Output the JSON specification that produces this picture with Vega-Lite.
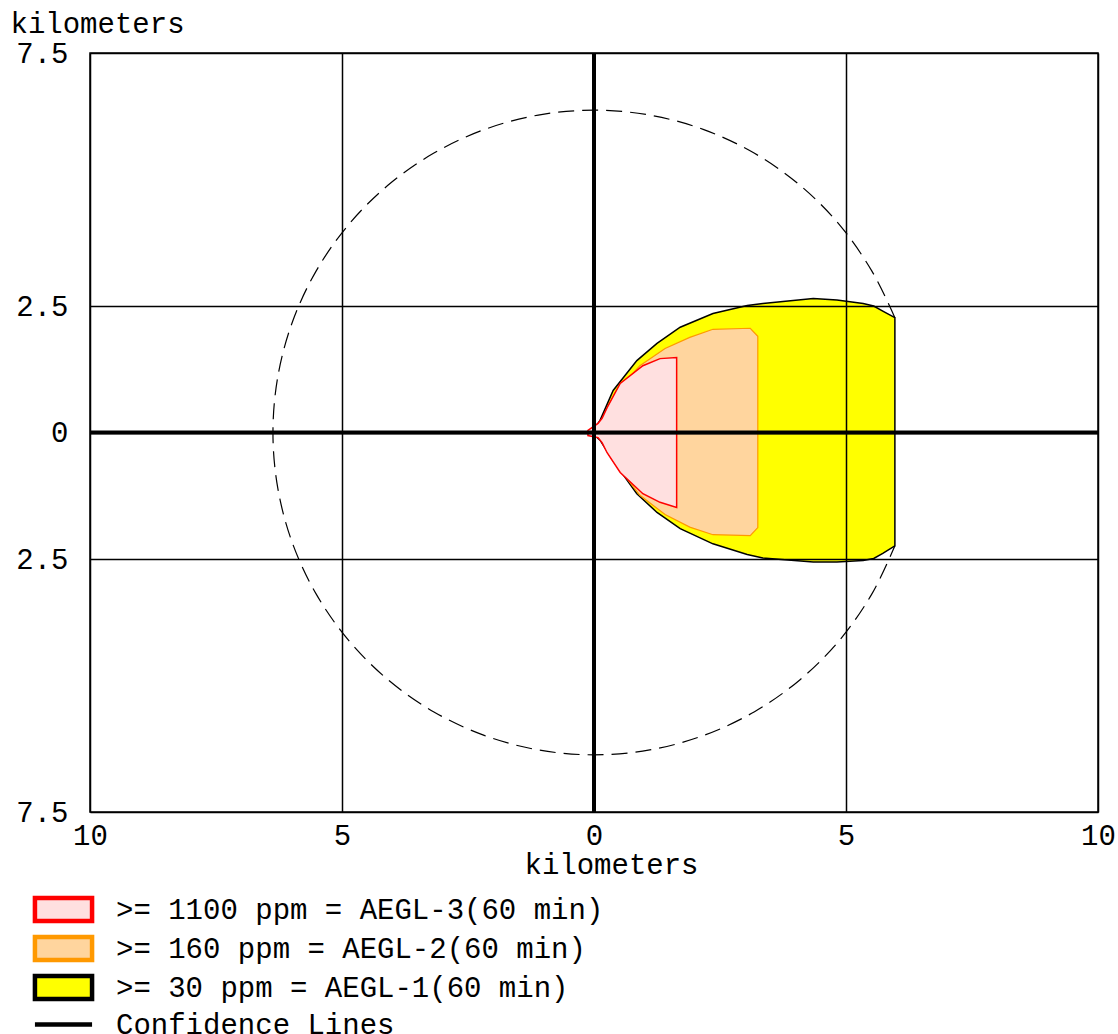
{
  "$schema": "https://vega.github.io/schema/vega-lite/v6.json",
  "width": 1008,
  "height": 759,
  "autosize": {"type": "none"},
  "padding": {"left": 90, "top": 53, "right": 20, "bottom": 222},
  "background": "white",
  "config": {"view": {"stroke": "#000", "strokeWidth": 1.5}, "font": "Liberation Mono"},
  "datasets": {
    "yellow": [
      {"x": -0.05, "top": 0, "bottom": 0},
      {"x": 0.12, "top": 0.24, "bottom": -0.15},
      {"x": 0.38, "top": 0.83, "bottom": -0.56},
      {"x": 0.85, "top": 1.42, "bottom": -1.21},
      {"x": 1.25, "top": 1.76, "bottom": -1.58},
      {"x": 1.71, "top": 2.08, "bottom": -1.9},
      {"x": 2.36, "top": 2.35, "bottom": -2.2},
      {"x": 3.04, "top": 2.51, "bottom": -2.41},
      {"x": 3.35, "top": 2.55, "bottom": -2.48},
      {"x": 4.35, "top": 2.65, "bottom": -2.56},
      {"x": 4.82, "top": 2.62, "bottom": -2.56},
      {"x": 5.34, "top": 2.55, "bottom": -2.53},
      {"x": 5.55, "top": 2.5, "bottom": -2.49},
      {"x": 5.73, "top": 2.4, "bottom": -2.39},
      {"x": 5.97, "top": 2.27, "bottom": -2.24}
    ],
    "orange": [
      {"x": 0.05, "top": 0, "bottom": 0},
      {"x": 0.16, "top": 0.22, "bottom": -0.16},
      {"x": 0.42, "top": 0.79, "bottom": -0.61},
      {"x": 0.91, "top": 1.32, "bottom": -1.24},
      {"x": 1.41, "top": 1.66, "bottom": -1.62},
      {"x": 1.9, "top": 1.88, "bottom": -1.87},
      {"x": 2.36, "top": 2.04, "bottom": -2.02},
      {"x": 3.1, "top": 2.06, "bottom": -2.04},
      {"x": 3.25, "top": 1.9, "bottom": -1.88}
    ],
    "red": [
      {"x": -0.12, "top": 0.04, "bottom": -0.06},
      {"x": 0.08, "top": 0.18, "bottom": -0.1},
      {"x": 0.16, "top": 0.28, "bottom": -0.2},
      {"x": 0.26, "top": 0.49, "bottom": -0.4},
      {"x": 0.52, "top": 0.97, "bottom": -0.79},
      {"x": 0.97, "top": 1.32, "bottom": -1.21},
      {"x": 1.31, "top": 1.46, "bottom": -1.38},
      {"x": 1.64, "top": 1.48, "bottom": -1.48}
    ],
    "circle": [
      {"i": 0, "x": 5.97, "y": 2.27},
      {"i": 1, "x": 5.517, "y": 3.185},
      {"i": 2, "x": 4.88, "y": 4.095},
      {"i": 3, "x": 4.095, "y": 4.88},
      {"i": 4, "x": 3.185, "y": 5.517},
      {"i": 5, "x": 2.179, "y": 5.986},
      {"i": 6, "x": 1.106, "y": 6.273},
      {"i": 7, "x": 0, "y": 6.37},
      {"i": 8, "x": -1.106, "y": 6.273},
      {"i": 9, "x": -2.179, "y": 5.986},
      {"i": 10, "x": -3.185, "y": 5.517},
      {"i": 11, "x": -4.095, "y": 4.88},
      {"i": 12, "x": -4.88, "y": 4.095},
      {"i": 13, "x": -5.517, "y": 3.185},
      {"i": 14, "x": -5.986, "y": 2.179},
      {"i": 15, "x": -6.273, "y": 1.106},
      {"i": 16, "x": -6.37, "y": 0},
      {"i": 17, "x": -6.273, "y": -1.106},
      {"i": 18, "x": -5.986, "y": -2.179},
      {"i": 19, "x": -5.517, "y": -3.185},
      {"i": 20, "x": -4.88, "y": -4.095},
      {"i": 21, "x": -4.095, "y": -4.88},
      {"i": 22, "x": -3.185, "y": -5.517},
      {"i": 23, "x": -2.179, "y": -5.986},
      {"i": 24, "x": -1.106, "y": -6.273},
      {"i": 25, "x": 0, "y": -6.37},
      {"i": 26, "x": 1.106, "y": -6.273},
      {"i": 27, "x": 2.179, "y": -5.986},
      {"i": 28, "x": 3.185, "y": -5.517},
      {"i": 29, "x": 4.095, "y": -4.88},
      {"i": 30, "x": 4.88, "y": -4.095},
      {"i": 31, "x": 5.517, "y": -3.185},
      {"i": 32, "x": 5.97, "y": -2.24}
    ],
    "origin": [{"x": 0, "y": 0}]
  },
  "layer": [
    {
      "data": {"name": "yellow"},
      "mark": {"type": "area", "stroke": "#000", "strokeWidth": 1.5, "opacity": 1},
      "encoding": {
        "x": {
          "field": "x", "type": "quantitative",
          "scale": {"domain": [-10, 10], "nice": false, "zero": false},
          "axis": {
            "values": [-10, -5, 0, 5, 10],
            "labelExpr": "abs(datum.value) + ''",
            "grid": true, "gridColor": "#000", "gridWidth": 1.5, "gridOpacity": 1,
            "ticks": false, "tickSize": 0, "domain": false,
            "labelFont": "Liberation Mono", "labelFontSize": 29, "labelColor": "#000",
            "labelPadding": 9, "labelFlush": false, "labelOverlap": false,
            "title": "kilometers", "titleFont": "Liberation Mono", "titleFontSize": 29,
            "titleFontWeight": "normal", "titleColor": "#000",
            "titleX": 521, "titleY": 61, "titleAlign": "center", "titleBaseline": "alphabetic",
            "zindex": 1
          }
        },
        "y": {
          "field": "top", "type": "quantitative",
          "scale": {"domain": [-7.5, 7.5], "nice": false, "zero": false},
          "axis": {
            "values": [-7.5, -2.5, 0, 2.5, 7.5],
            "labelExpr": "abs(datum.value) + ''",
            "grid": true, "gridColor": "#000", "gridWidth": 1.5, "gridOpacity": 1,
            "ticks": false, "tickSize": 0, "domain": false,
            "labelFont": "Liberation Mono", "labelFontSize": 29, "labelColor": "#000",
            "labelPadding": 22, "labelFlush": false, "labelOverlap": false,
            "title": "kilometers", "titleFont": "Liberation Mono", "titleFontSize": 29,
            "titleFontWeight": "normal", "titleColor": "#000", "titleAngle": 0,
            "titleX": -80, "titleY": -21, "titleAlign": "left", "titleBaseline": "alphabetic",
            "zindex": 1
          }
        },
        "y2": {"field": "bottom"},
        "fill": {
          "datum": ">= 30 ppm = AEGL-1(60 min)", "type": "nominal",
          "scale": {
            "domain": [">= 1100 ppm = AEGL-3(60 min)", ">= 160 ppm = AEGL-2(60 min)", ">= 30 ppm = AEGL-1(60 min)", "Confidence Lines"],
            "range": ["#ffe0e0", "#ffd59e", "#ffff00", "#000000"]
          },
          "legend": {
            "orient": "none", "legendX": -43, "legendY": 840, "title": null,
            "direction": "vertical",
            "symbolSize": 784, "symbolStrokeWidth": 4.5,
            "symbolType": {"expr": "datum.index == 3 ? 'M-2.04,0H2.04' : 'M-2.04,-0.82H2.04V0.82H-2.04Z'"},
            "symbolStrokeColor": {"expr": "['#ff0000','#ff9900','#000000','#000000'][datum.index]"},
            "symbolFillColor": {"expr": "['#ffeaea','#ffb860','#ffff00','#000000'][datum.index]"},
            "labelFont": "Liberation Mono", "labelFontSize": 29, "labelColor": "#000",
            "labelOffset": 36, "rowPadding": -2, "padding": 0, "labelLimit": 0
          }
        }
      }
    },
    {
      "data": {"name": "orange"},
      "mark": {"type": "area", "stroke": "#ff9900", "strokeWidth": 1.2, "opacity": 1},
      "encoding": {
        "x": {"field": "x", "type": "quantitative"},
        "y": {"field": "top", "type": "quantitative"},
        "y2": {"field": "bottom"},
        "fill": {"datum": ">= 160 ppm = AEGL-2(60 min)", "type": "nominal"}
      }
    },
    {
      "data": {"name": "red"},
      "mark": {"type": "area", "stroke": "#ff0000", "strokeWidth": 1.5, "opacity": 1},
      "encoding": {
        "x": {"field": "x", "type": "quantitative"},
        "y": {"field": "top", "type": "quantitative"},
        "y2": {"field": "bottom"},
        "fill": {"datum": ">= 1100 ppm = AEGL-3(60 min)", "type": "nominal"}
      }
    },
    {
      "data": {"name": "circle"},
      "mark": {"type": "line", "color": "#000", "strokeWidth": 1.2, "strokeDash": [16, 8], "interpolate": "cardinal"},
      "encoding": {
        "x": {"field": "x", "type": "quantitative"},
        "y": {"field": "y", "type": "quantitative"},
        "order": {"field": "i", "type": "quantitative"}
      }
    },
    {
      "data": {"name": "origin"},
      "mark": {"type": "rule", "color": "#000", "strokeWidth": 4},
      "encoding": {"x": {"field": "x", "type": "quantitative"}}
    },
    {
      "data": {"name": "origin"},
      "mark": {"type": "rule", "color": "#000", "strokeWidth": 4},
      "encoding": {"y": {"field": "y", "type": "quantitative"}}
    }
  ]
}
